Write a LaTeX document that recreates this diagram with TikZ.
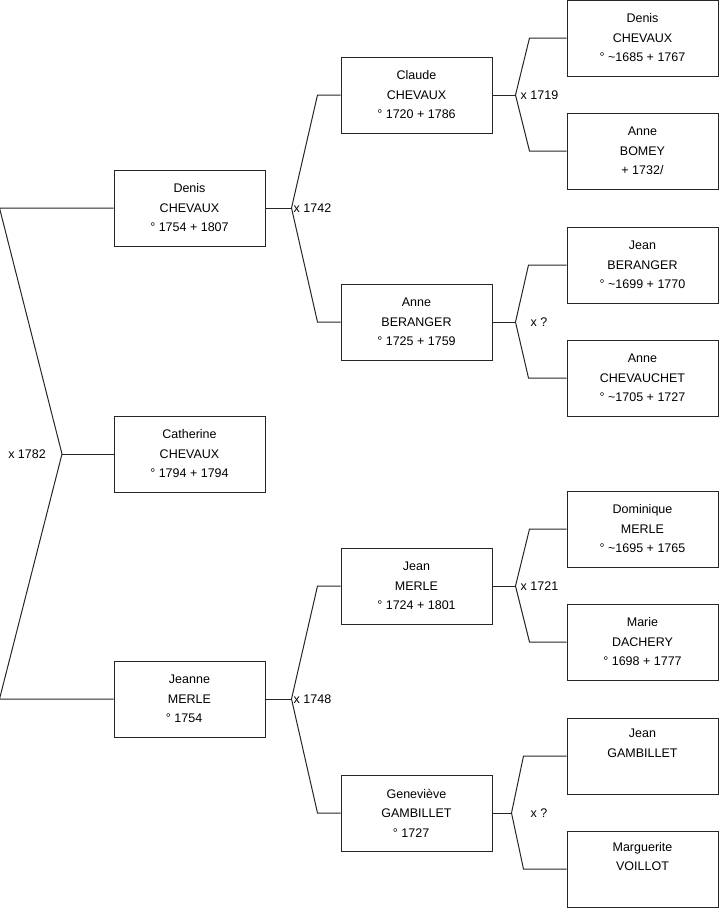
\documentclass[tikz,border=0pt]{standalone}
\usepackage{fontspec}
\setmainfont{Liberation Sans}
\usetikzlibrary{calc, positioning}

\begin{document}
\begin{tikzpicture}[
  x=1pt, y=-1pt,
  person/.style={draw=black!85, line width=1pt, fill=white,
                 minimum width=151pt, minimum height=76pt, inner sep=0pt,
                 align=center, font=\fontsize{12.5}{19.5}\selectfont},
  link/.style={draw=black!85, line width=1pt},
  wed/.style={font=\fontsize{12.5}{15}\selectfont, inner sep=0pt},
]
\useasboundingbox (0,0) rectangle (719,908);

% generation 1
\node[person] (denis)     at (189.5,208) {Denis\\CHEVAUX\\° 1754 + 1807};
\node[person] (catherine) at (189.5,454) {Catherine\\CHEVAUX\\° 1794 + 1794};
\node[person] (jeanne)    at (189.5,699) {Jeanne\\MERLE\\° 1754\hphantom{\ +}};

% generation 2
\node[person] (claude)    at (416.5,95)  {Claude\\CHEVAUX\\° 1720 + 1786};
\node[person] (anneb)     at (416.5,322) {Anne\\BERANGER\\° 1725 + 1759};
\node[person] (jeanm)     at (416.5,586) {Jean\\MERLE\\° 1724 + 1801};
\node[person] (genevieve) at (416.5,813) {Geneviève\\GAMBILLET\\° 1727\hphantom{\ +}};

% generation 3
\node[person] (denisc)    at (642.5,38)  {Denis\\CHEVAUX\\° \textasciitilde1685 + 1767};
\node[person] (anneby)    at (642.5,151) {Anne\\BOMEY\\+ 1732/};
\node[person] (jeanb)     at (642.5,265) {Jean\\BERANGER\\° \textasciitilde1699 + 1770};
\node[person] (annech)    at (642.5,378) {Anne\\CHEVAUCHET\\° \textasciitilde1705 + 1727};
\node[person] (dominique) at (642.5,529) {Dominique\\MERLE\\° \textasciitilde1695 + 1765};
\node[person] (marie)     at (642.5,642) {Marie\\DACHERY\\° 1698 + 1777};
\node[person] (jeang)     at (642.5,756) {Jean\\GAMBILLET\\\strut};
\node[person] (marguerite) at (642.5,869) {Marguerite\\VOILLOT\\\strut};

% marriage points
\coordinate (m0) at (62,454);
\coordinate (m1) at ($(denis.east)+(26,0)$);
\coordinate (m2) at ($(jeanne.east)+(26,0)$);
\coordinate (m3) at ($(claude.east)+(23,0)$);
\coordinate (m4) at ($(anneb.east)+(23,0)$);
\coordinate (m5) at ($(jeanm.east)+(23,0)$);
\coordinate (m6) at ($(genevieve.east)+(19,0)$);

% connectors
\draw[link] (denis.west) -- ++(-114,0) -- (m0) -- ([xshift=-114]jeanne.west) -- (jeanne.west);
\draw[link] (m0) -- (catherine.west);

\draw[link] (denis.east) -- (m1);
\draw[link] (claude.west) -- ++(-23,0) -- (m1) -- ([xshift=-23]anneb.west) -- (anneb.west);
\draw[link] (jeanne.east) -- (m2);
\draw[link] (jeanm.west) -- ++(-23,0) -- (m2) -- ([xshift=-23]genevieve.west) -- (genevieve.west);

\draw[link] (claude.east) -- (m3);
\draw[link] (denisc.west) -- ++(-37,0) -- (m3) -- ([xshift=-37]anneby.west) -- (anneby.west);
\draw[link] (anneb.east) -- (m4);
\draw[link] (jeanb.west) -- ++(-38,0) -- (m4) -- ([xshift=-38]annech.west) -- (annech.west);
\draw[link] (jeanm.east) -- (m5);
\draw[link] (dominique.west) -- ++(-37,0) -- (m5) -- ([xshift=-37]marie.west) -- (marie.west);
\draw[link] (genevieve.east) -- (m6);
\draw[link] (jeang.west) -- ++(-43,0) -- (m6) -- ([xshift=-43]marguerite.west) -- (marguerite.west);

% marriage labels
\node[wed, anchor=east] (w0) at ($(m0)+(-16,0)$) {x 1782};
\node[wed, anchor=west] (w1) at ($(m1)+(2,0)$)  {x 1742};
\node[wed, anchor=west] (w2) at ($(m2)+(2,0)$)  {x 1748};
\node[wed, anchor=west] (w3) at ($(m3)+(5,0)$)  {x 1719};
\node[wed, anchor=west] (w4) at ($(m4)+(15,0)$) {x ?};
\node[wed, anchor=west] (w5) at ($(m5)+(5,0)$)  {x 1721};
\node[wed, anchor=west] (w6) at ($(m6)+(19,0)$) {x ?};
\end{tikzpicture}
\end{document}
